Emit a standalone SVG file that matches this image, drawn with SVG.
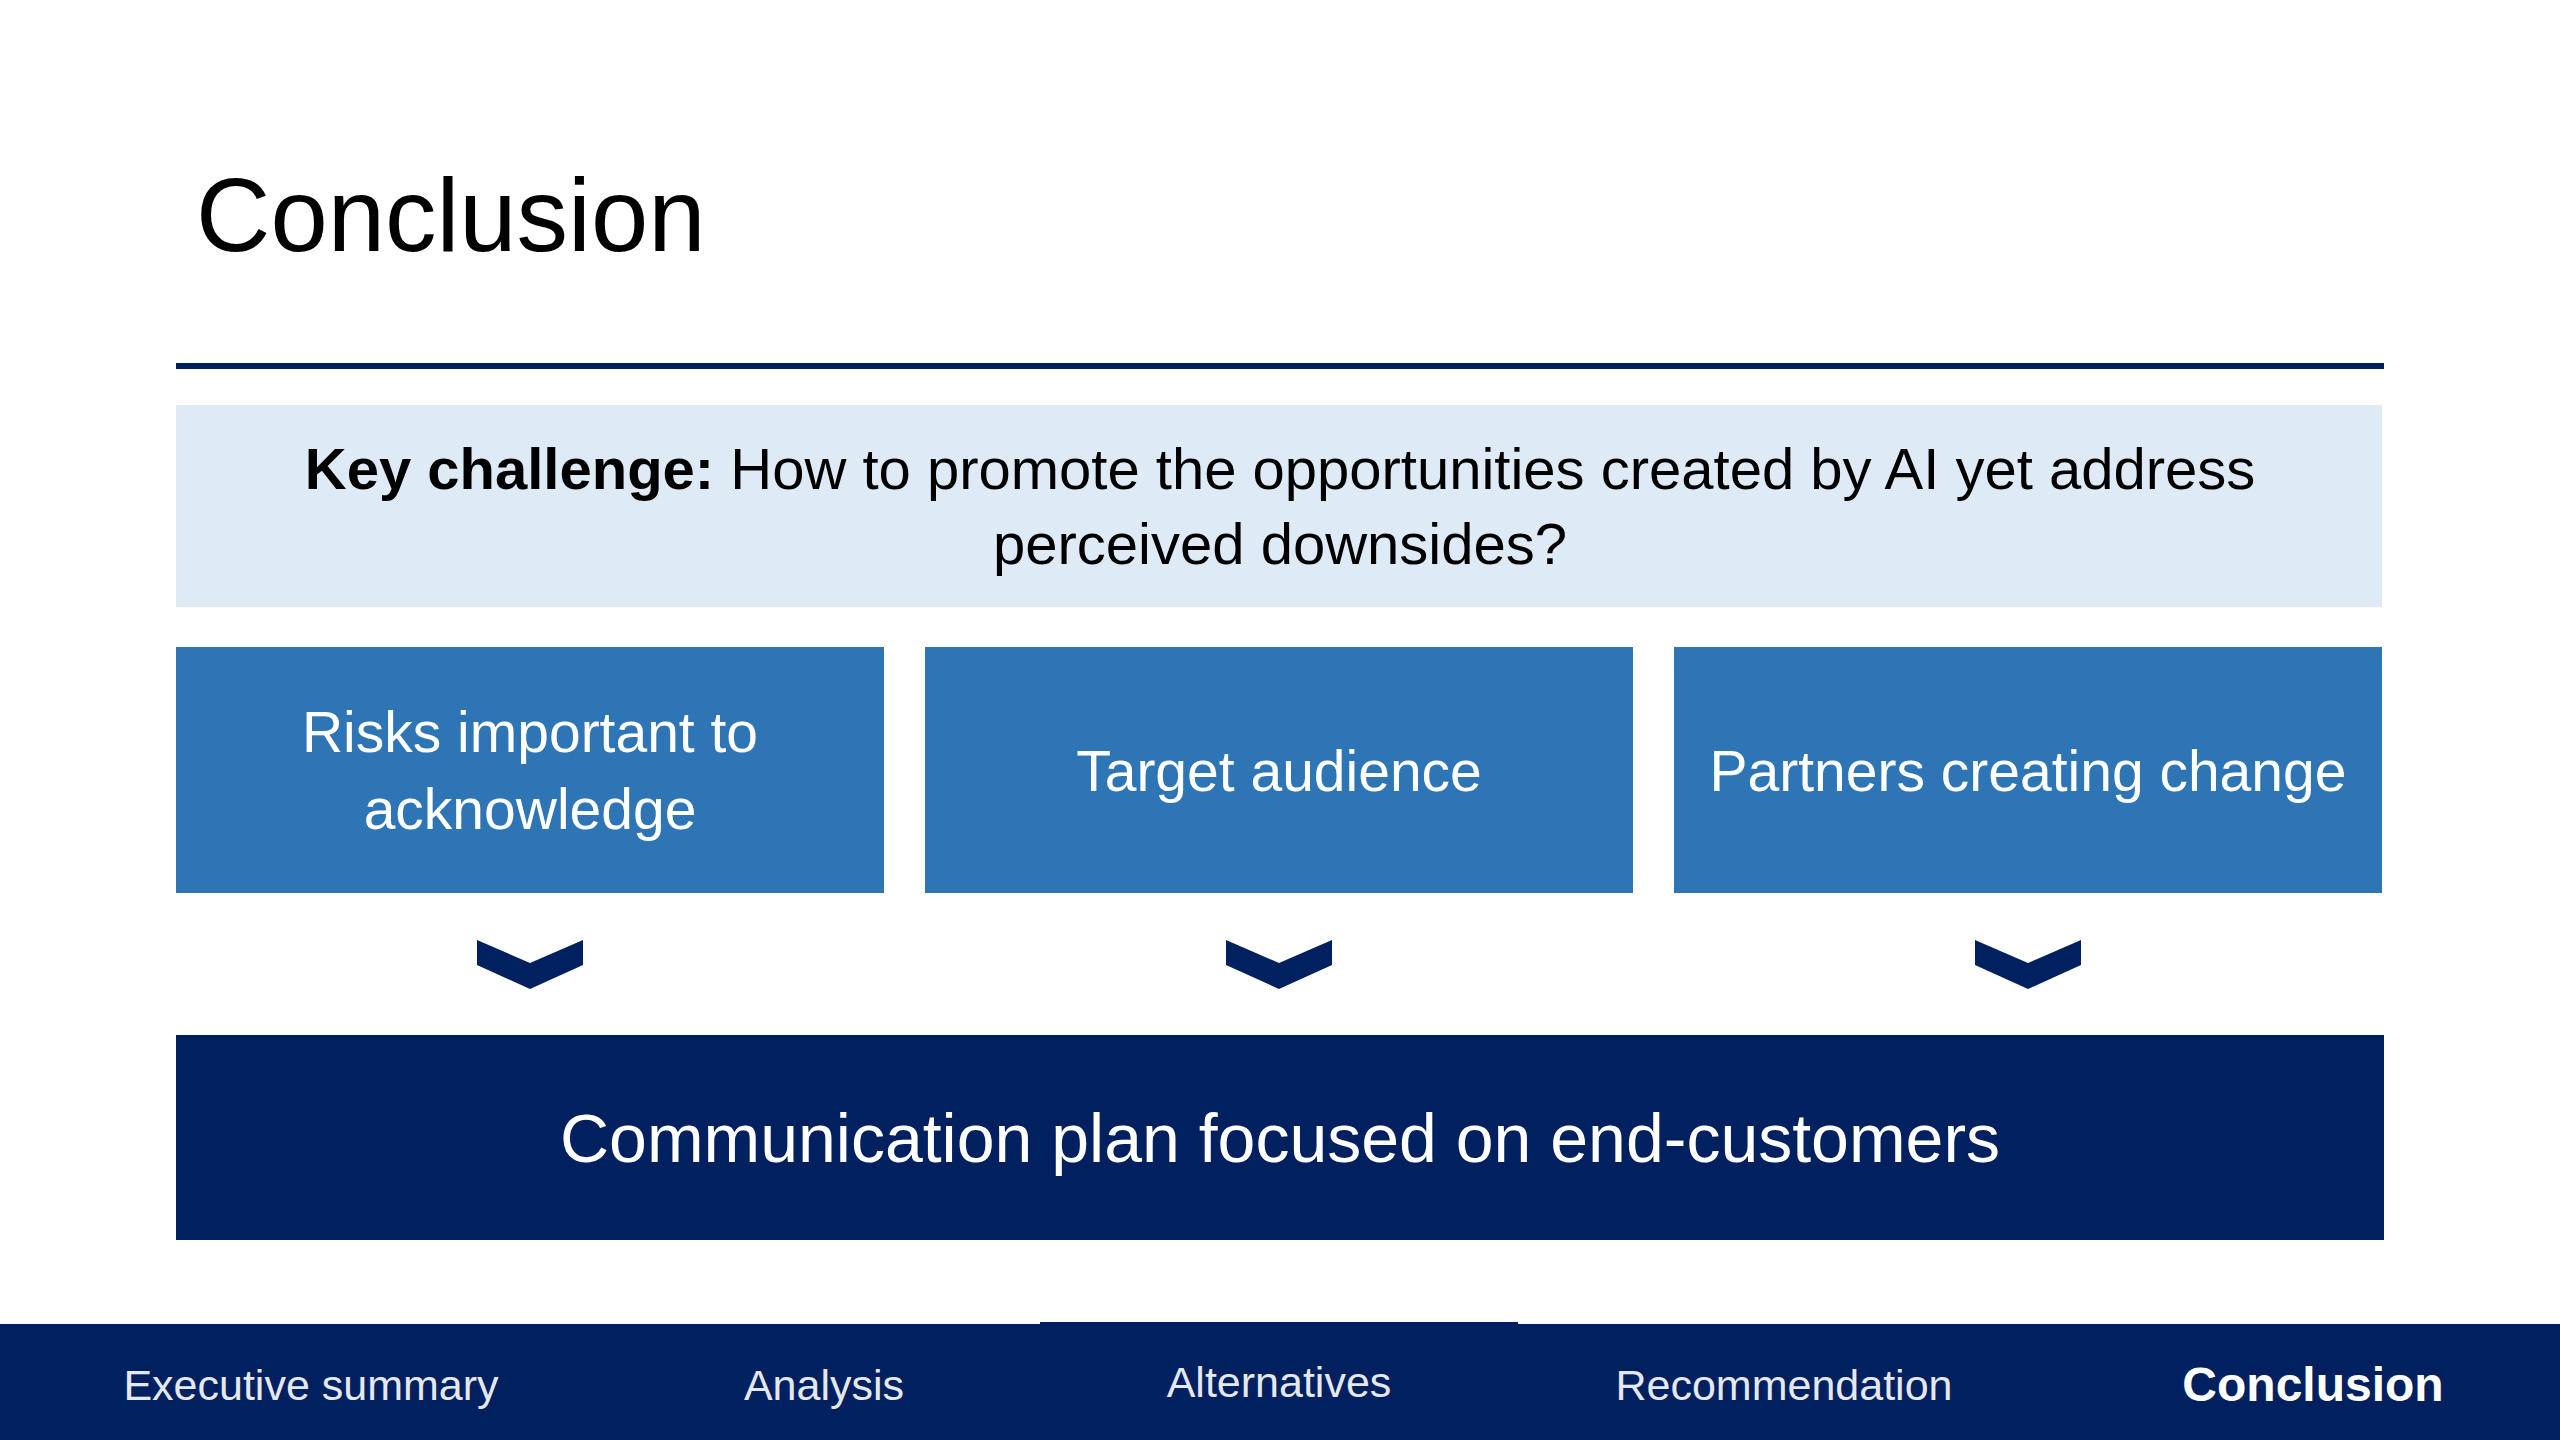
<svg xmlns="http://www.w3.org/2000/svg" width="2560" height="1440" viewBox="0 0 2560 1440">
<style>
text{font-family:"Liberation Sans",Arial,sans-serif}
.title{font-size:103px;fill:#000}
.kc{font-size:58px;fill:#000}
.box{fill:#2e75b6}
.boxt{font-size:57px;fill:#fff}
.navy{fill:#002060}
.nav{font-size:43px;fill:#e6e8ef}
.navb{font-size:48px;font-weight:bold;fill:#fff}
.chev{fill:#002060}
</style>
<rect width="2560" height="1440" fill="#fff"/>
<text class="title" x="196" y="251">Conclusion</text>
<rect x="176" y="363" width="2208" height="6" class="navy"/>
<g id="key-challenge">
<rect x="176" y="405" width="2206" height="202" fill="#deebf7"/>
<text class="kc" x="1280" y="489" text-anchor="middle"><tspan font-weight="bold">Key challenge:</tspan> How to promote the opportunities created by AI yet address</text>
<text class="kc" x="1280" y="564" text-anchor="middle">perceived downsides?</text>
</g>
<g id="risks">
<rect class="box" x="176" y="647" width="708" height="246"/>
<text class="boxt" x="530" y="752" text-anchor="middle">Risks important to</text>
<text class="boxt" x="530" y="829" text-anchor="middle">acknowledge</text>
</g>
<g id="audience">
<rect class="box" x="925" y="647" width="708" height="246"/>
<text class="boxt" x="1279" y="791" text-anchor="middle">Target audience</text>
</g>
<g id="partners">
<rect class="box" x="1674" y="647" width="708" height="246"/>
<text class="boxt" x="2028" y="791" text-anchor="middle">Partners creating change</text>
</g>
<g id="connectors">
<polygon class="chev" points="477,940 530,963 583,940 583,965 530,989 477,965"/>
<polygon class="chev" points="1226,940 1279,963 1332,940 1332,965 1279,989 1226,965"/>
<polygon class="chev" points="1975,940 2028,963 2081,940 2081,965 2028,989 1975,965"/>
</g>
<g id="plan">
<rect class="navy" x="176" y="1035" width="2208" height="205"/>
<text x="1280" y="1162" text-anchor="middle" font-size="68" fill="#fff">Communication plan focused on end-customers</text>
</g>
<g id="nav-bar">
<rect class="navy" x="0" y="1324" width="2560" height="116"/>
<rect class="navy" x="1040" y="1322" width="478" height="4"/>
<text class="nav" x="311" y="1400" text-anchor="middle">Executive summary</text>
<text class="nav" x="824" y="1400" text-anchor="middle">Analysis</text>
<text class="nav" x="1279" y="1397" text-anchor="middle">Alternatives</text>
<text class="nav" x="1784" y="1400" text-anchor="middle">Recommendation</text>
<text class="navb" x="2313" y="1401" text-anchor="middle">Conclusion</text>
</g>
</svg>
